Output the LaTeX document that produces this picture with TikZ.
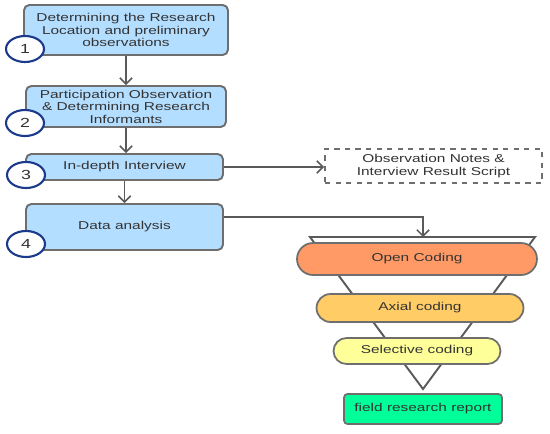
\documentclass[tikz,border=0pt]{standalone}
\usepackage{fontspec}
\setmainfont{Liberation Sans}
\newfontfamily\widesans[FakeStretch=1.35]{Liberation Sans}
\usetikzlibrary{shapes.geometric, arrows.meta}

\definecolor{stepblue}{HTML}{B4DEFF}
\definecolor{boxline}{HTML}{6E6E6E}
\definecolor{wireline}{HTML}{5A5A5A}
\definecolor{txtgray}{HTML}{333333}
\definecolor{ringblue}{HTML}{1C3A8C}
\definecolor{opencol}{HTML}{FF9A66}
\definecolor{axialcol}{HTML}{FFCC66}
\definecolor{selectcol}{HTML}{FFFF99}
\definecolor{reportcol}{HTML}{00FF99}

\begin{document}
\begin{tikzpicture}[x=0.02cm, y=-0.02cm,
  font=\widesans\fontsize{6.5}{7.1}\selectfont,
  stepbox/.style={draw=boxline, fill=stepblue, line width=1.1pt,
    rounded corners=3pt, align=center, text=txtgray, inner sep=1pt},
  numring/.style={ellipse, draw=ringblue, fill=white, line width=1.2pt,
    minimum width=0.76cm, minimum height=0.52cm, inner sep=0pt,
    text=txtgray, font=\widesans\fontsize{7.5}{8}\selectfont},
  codepill/.style={draw=boxline, line width=1pt, text=txtgray,
    inner sep=0pt},
  wire/.style={draw=wireline, line width=0.9pt},
  flow/.style={wire, ->, >={Straight Barb[length=3.5pt, width=7pt]}}]

  \useasboundingbox (0,0) rectangle (550,433);

  % ---- left column: research steps ----
  \node[stepbox, minimum width=4.08cm, minimum height=1.0cm]
    (loc) at (126, 30) {Determining the Research\\Location and preliminary\\observations};
  \node[stepbox, minimum width=4.0cm, minimum height=0.82cm]
    (obs) at (126, 106.5) {Participation Observation\\\& Determining Research\\Informants};
  \node[stepbox, minimum width=3.94cm, minimum height=0.52cm]
    (inter) at (124.5, 167) {In-depth Interview};
  \node[stepbox, minimum width=3.94cm, minimum height=0.92cm]
    (anal) at (124.5, 227) {Data analysis};

  % step numbers on the lower left corners
  \node[numring] (n1) at (25, 49)  {1};
  \node[numring] (n2) at (25, 123) {2};
  \node[numring] (n3) at (26, 175) {3};
  \node[numring] (n4) at (26, 244) {4};

  % arrows between the steps
  \draw[flow] (loc.south) -- (loc.south |- obs.north);
  \draw[flow] (obs.south) -- (obs.south |- inter.north);
  \draw[flow] (inter.south) -- (inter.south |- anal.north);

  % ---- notes box ----
  \node[draw=boxline, dashed, line width=1pt, fill=white, align=center,
    text=txtgray, minimum width=4.34cm, minimum height=0.68cm, inner sep=1pt]
    (notes) at (433.5, 166) {Observation Notes \&\\Interview Result Script};
  \draw[flow] (inter.east) -- (notes.west |- inter.east);

  % ---- coding funnel ----
  \coordinate (ftop) at (423, 237);
  \coordinate (fork) at (423, 217);
  \draw[wireline, line width=1.1pt] (310, 237) -- (535, 237) -- (423, 389) -- cycle;
  \draw[flow] (anal.east |- fork) -| (ftop);

  \node[codepill, fill=opencol, minimum width=4.8cm, minimum height=0.64cm,
    rounded corners=0.32cm] (open) at (417, 259) {Open Coding};
  \node[codepill, fill=axialcol, minimum width=4.14cm, minimum height=0.56cm,
    rounded corners=0.28cm] (axial) at (420, 308) {Axial coding};
  \node[codepill, fill=selectcol, minimum width=3.34cm, minimum height=0.52cm,
    rounded corners=0.26cm] (select) at (417, 351) {Selective coding};

  % ---- result ----
  \node[codepill, fill=reportcol, minimum width=3.16cm, minimum height=0.6cm,
    rounded corners=2pt] (report) at (423, 409) {field research report};

\end{tikzpicture}
\end{document}
